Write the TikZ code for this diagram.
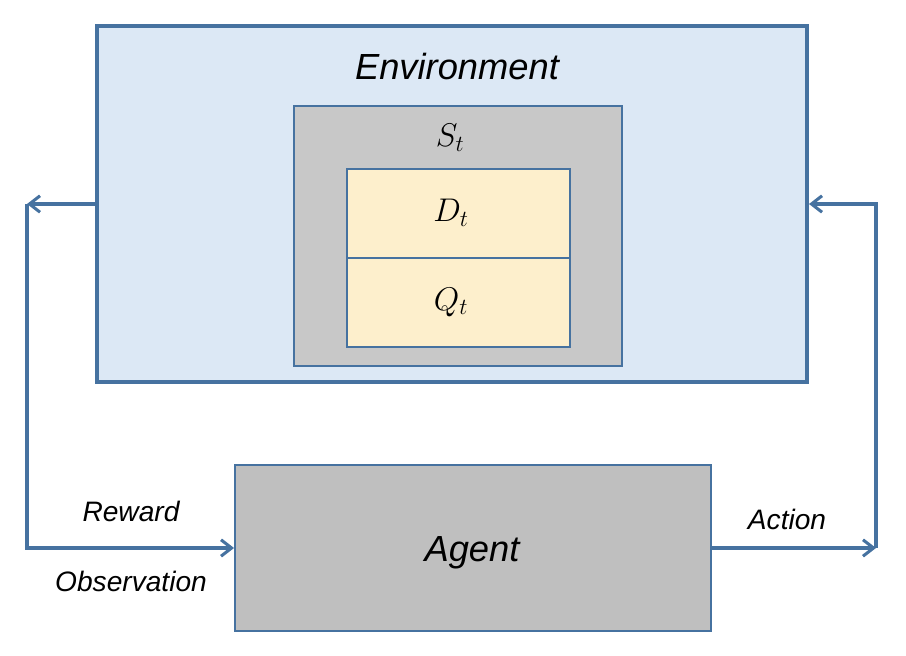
\RequirePackage{fix-cm}
\documentclass[tikz,border=0pt]{standalone}
\usepackage{amsmath}
\usepackage{fontspec}
\setmainfont{Liberation Sans}
\usepackage{tikz}
\usetikzlibrary{arrows.meta,positioning,calc}
\definecolor{rlblue}{HTML}{4672A0}
\definecolor{envfill}{HTML}{DCE8F5}
\definecolor{statefill}{HTML}{C8C8C8}
\definecolor{partfill}{HTML}{FDEFCC}
\definecolor{agentfill}{HTML}{BFBFBF}
\tikzstyle{box}=[draw=rlblue, line width=1.6pt, inner sep=0pt]
\tikzstyle{flow}=[draw=rlblue, line width=3pt, -{Straight Barb[length=9pt,width=14pt,line width=2.6pt]}]
\tikzstyle{lbl}=[font=\fontsize{24}{28}\selectfont\itshape]
\tikzstyle{big}=[font=\fontsize{31}{36}\selectfont\itshape]
\tikzstyle{sym}=[font=\fontsize{28}{32}\selectfont]

\begin{document}
\begin{tikzpicture}[x=0.03cm, y=-0.03cm]

\useasboundingbox (0,0) rectangle (906,656);

% structure
\node[box, line width=3.4pt, fill=envfill, minimum width=21.3cm, minimum height=10.68cm] (env) at (452,204) {};
\node[big] (envname) at (457,67) {Environment};
\node[box, fill=statefill, minimum width=9.84cm, minimum height=7.8cm] (state) at (458,236) {};
\node[sym] (statename) at (450,138) {$S_t$};
\node[box, fill=partfill, minimum width=6.69cm, minimum height=2.67cm] (demand) at (458.5,213.5) {};
\node[box, fill=partfill, minimum width=6.69cm, minimum height=2.67cm] (queue) at (458.5,302.5) {};
\node[sym] (demandname) at (451,213) {$D_t$};
\node[sym] (queuename) at (451,302) {$Q_t$};
\node[box, fill=agentfill, minimum width=14.28cm, minimum height=4.98cm] (agent) at (473,548) {};
\node[big] (agentname) at (472,553) {Agent};

% connectors
\coordinate (obsturn) at (27,204);
\coordinate (actturn) at (876,548);
\draw[flow] (env.west) -- (obsturn);
\draw[flow] (obsturn) |- (agent.west);
\draw[flow] (agent.east) -- (actturn);
\draw[flow] (actturn) |- (env.east);

% labels
\node[lbl] (reward) at (131,511) {Reward};
\node[lbl] (observation) at (131,581) {Observation};
\node[lbl] (action) at (787,519) {Action};

\end{tikzpicture}
\end{document}
